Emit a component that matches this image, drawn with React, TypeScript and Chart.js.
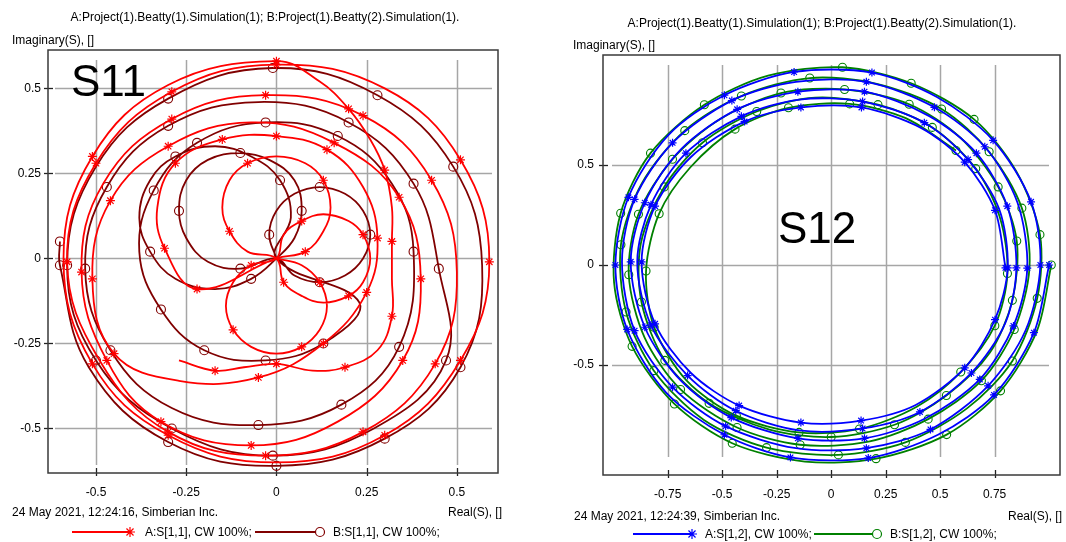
import React, { useEffect, useRef } from "react";
import { Chart, registerables } from "chart.js";

Chart.register(...registerables);

// ---------------- data ----------------
// S11, trace A (Beatty 1): real / imaginary parts
const s11ARe = [
  0, 0.07, 0.12, 0.14, 0.12, 0.07, 0, -0.07, -0.12, -0.14, -0.12, -0.07, 0,
  0.02, 0.07, 0.13, 0.2, 0.24, 0.26, 0.24, 0.2, 0.13, 0.07, 0.02, 0,
  -0.08, -0.13, -0.15, -0.13, -0.08, 0, 0.08, 0.13, 0.15, 0.13, 0.08, 0,
  -0.22, -0.31, -0.33, -0.28, -0.15, 0.0, 0.14, 0.24, 0.28, 0.25, 0.13, -0.05, -0.27,
  -0.45, -0.51, -0.46, -0.3, -0.07, 0.16, 0.34, 0.4, 0.35, 0.17, -0.07, -0.32,
  -0.47, -0.54, -0.48, -0.29, -0.03, 0.24, 0.43, 0.5, 0.44, 0.24, -0.03, -0.3,
  -0.49, -0.58, -0.5, -0.29, 0, 0.3, 0.51, 0.59, 0.51, 0.3, 0, -0.3,
  -0.51, -0.59, -0.51, -0.3, 0.0, 0.12, 0.2, 0.26, 0.3, 0.32, 0.32, 0.32, 0.32, 0.28, 0.19, 0.1, 0.0, -0.09, -0.17, -0.27,
];
const s11AIm = [
  0, -0.02, -0.07, -0.14, -0.21, -0.26, -0.28, -0.26, -0.21, -0.14, -0.07, -0.02, 0,
  0.07, 0.11, 0.13, 0.11, 0.07, 0, -0.07, -0.11, -0.13, -0.11, -0.07, 0,
  0.02, 0.08, 0.15, 0.23, 0.28, 0.3, 0.28, 0.23, 0.15, 0.08, 0.02, 0,
  -0.09, 0.03, 0.15, 0.28, 0.35, 0.36, 0.32, 0.21, 0.06, -0.1, -0.25, -0.35, -0.36,
  -0.28, -0.06, 0.17, 0.33, 0.4, 0.34, 0.18, -0.06, -0.3, -0.48, -0.55, -0.48,
  -0.3, -0.04, 0.22, 0.41, 0.48, 0.42, 0.23, -0.04, -0.31, -0.51, -0.58, -0.51,
  -0.3, -0.01, 0.28, 0.49, 0.57, 0.5, 0.29, -0.01, -0.3, -0.52, -0.6, -0.52,
  -0.31, 0.0, 0.3, 0.51, 0.58, 0.52, 0.44, 0.35, 0.26, 0.15, 0.05, -0.06, -0.17, -0.27, -0.32, -0.33, -0.31, -0.32, -0.33, -0.3,
];

// S11, trace B (Beatty 2)
const s11BRe = [
  0, -0.02, 0.0, 0.05, 0.12, 0.19, 0.24, 0.26, 0.24, 0.19, 0.12, 0.05, 0,
  -0.1, -0.19, -0.25, -0.27, -0.25, -0.19, -0.1, -0.02, 0.05, 0.07, 0.05, 0,
  -0.07, -0.17, -0.28, -0.35, -0.38, -0.35, -0.28, -0.17, -0.07, 0.01, 0.04, 0,
  0.23, 0.13, -0.03, -0.2, -0.32, -0.38, -0.34, -0.22, -0.03, 0.17, 0.32, 0.38,
  0.34, 0.18, -0.05, -0.29, -0.46, -0.53, -0.47, -0.3, -0.05, 0.2, 0.38, 0.45,
  0.47, 0.27, -0.01, -0.29, -0.5, -0.58, -0.5, -0.3, -0.01, 0.28, 0.49, 0.57,
  0.51, 0.3, 0, -0.3, -0.52, -0.6, -0.6,
];
const s11BIm = [
  0, 0.07, 0.14, 0.19, 0.21, 0.19, 0.14, 0.07, 0.0, -0.05, -0.07, -0.05, 0,
  -0.03, -0.01, 0.06, 0.14, 0.23, 0.29, 0.31, 0.29, 0.23, 0.14, 0.06, 0,
  -0.06, -0.09, -0.06, 0.02, 0.12, 0.23, 0.3, 0.33, 0.3, 0.23, 0.12, 0,
  -0.13, -0.25, -0.3, -0.27, -0.15, 0.02, 0.2, 0.34, 0.4, 0.36, 0.22, 0.02,
  -0.26, -0.43, -0.49, -0.44, -0.27, -0.03, 0.21, 0.39, 0.46, 0.4, 0.22, -0.03,
  -0.3, -0.5, -0.58, -0.5, -0.3, -0.02, 0.27, 0.47, 0.56, 0.48, 0.27, -0.02,
  -0.32, -0.53, -0.61, -0.54, -0.32, -0.02, 0.05,
];

// S12, trace A: magnitude and phase (degrees)
const s12AMag = [
  1.0, 0.99, 0.99, 0.98, 0.98, 0.98, 0.98, 0.99, 0.99, 0.99, 0.99, 0.99, 0.98, 0.98, 0.98, 0.97, 0.97, 0.97,
  0.96, 0.95, 0.94, 0.94, 0.93, 0.93, 0.94, 0.95, 0.96, 0.96, 0.96, 0.95, 0.94, 0.93, 0.93, 0.92, 0.92, 0.91,
  0.9, 0.89, 0.89, 0.88, 0.88, 0.88, 0.89, 0.9, 0.91, 0.92, 0.91, 0.9, 0.89, 0.88, 0.88, 0.87, 0.87, 0.86,
  0.85, 0.85, 0.84, 0.84, 0.83, 0.84, 0.85, 0.86, 0.88, 0.89, 0.88, 0.87, 0.85, 0.84, 0.83, 0.83, 0.82, 0.82,
  0.81, 0.8, 0.8, 0.8, 0.79, 0.8, 0.82, 0.84, 0.86, 0.87, 0.86, 0.84, 0.82, 0.8, 0.8, 0.8, 0.8, 0.8,
  0.8,
];
const s12APhase = [
  0, -20, -41, -60, -80, -101, -120, -140, -161, -180, -200, -221, -240, -260, -281, -300, -320, -341,
  -360, -380, -400, -421, -440, -460, -481, -500, -520, -541, -560, -580, -601, -620, -640, -661, -680, -700,
  -721, -740, -760, -781, -800, -820, -841, -860, -880, -901, -920, -940, -961, -980, -1000, -1021, -1040, -1060,
  -1081, -1100, -1120, -1141, -1160, -1180, -1201, -1220, -1240, -1261, -1280, -1300, -1321, -1340, -1360, -1381, -1400, -1420,
  -1441, -1460, -1480, -1501, -1520, -1540, -1561, -1580, -1600, -1621, -1640, -1660, -1681, -1700, -1720, -1741, -1760, -1780,
  -1801,
];

// S12, trace B
const s12BMag = [
  1.01, 1.0, 1.0, 1.0, 0.99, 0.99, 1.0, 1.0, 1.0, 1.0, 1.0, 1.0, 0.99, 0.99, 0.99, 0.98, 0.98, 0.97,
  0.97, 0.96, 0.96, 0.95, 0.95, 0.95, 0.96, 0.97, 0.97, 0.97, 0.97, 0.96, 0.95, 0.94, 0.94, 0.93, 0.93, 0.92,
  0.92, 0.91, 0.9, 0.9, 0.89, 0.9, 0.91, 0.92, 0.93, 0.93, 0.93, 0.92, 0.9, 0.89, 0.89, 0.88, 0.88, 0.87,
  0.86, 0.86, 0.85, 0.85, 0.84, 0.85, 0.86, 0.87, 0.89, 0.9, 0.89, 0.88, 0.86, 0.85, 0.84, 0.84, 0.83, 0.83,
  0.82, 0.81, 0.81, 0.81, 0.8, 0.81, 0.83, 0.85, 0.87, 0.88, 0.87, 0.85, 0.83, 0.81, 0.81, 0.81, 0.81, 0.81,
  0.81,
];
const s12BPhase = [
  0, -19, -39, -58, -78, -97, -117, -136, -156, -175, -195, -214, -234, -253, -273, -292, -312, -331,
  -351, -370, -390, -409, -429, -448, -468, -487, -507, -526, -546, -565, -585, -604, -624, -643, -663, -682,
  -702, -721, -741, -760, -780, -799, -819, -838, -858, -877, -897, -916, -936, -955, -975, -994, -1014, -1033,
  -1053, -1072, -1092, -1111, -1131, -1150, -1170, -1189, -1209, -1228, -1248, -1267, -1287, -1306, -1326, -1345, -1365, -1384,
  -1404, -1423, -1443, -1462, -1482, -1501, -1521, -1540, -1560, -1579, -1599, -1618, -1638, -1657, -1677, -1696, -1716, -1735,
  -1755,
];

// axis ticks
const s11XTicks = [-0.5, -0.25, 0, 0.25, 0.5];
const s11YTicks = [0.5, 0.25, 0, -0.25, -0.5];
const s12XTicks = [-0.75, -0.5, -0.25, 0, 0.25, 0.5, 0.75];
const s12YTicks = [0.5, 0, -0.5];

const titleText = "A:Project(1).Beatty(1).Simulation(1); B:Project(1).Beatty(2).Simulation(1).";
const s11Legend = ["A:S[1,1], CW 100%;", "B:S[1,1], CW 100%;"];
const s12Legend = ["A:S[1,2], CW 100%;", "B:S[1,2], CW 100%;"];

// ---------------- helpers ----------------
const FONT = "'Liberation Sans', Arial, Helvetica, sans-serif";
const TXT = 12;

function cartesian(re: number[], im: number[]) {
  return re.map((x, i) => ({ x, y: im[i] }));
}
function fromPolar(mag: number[], phaseDeg: number[]) {
  return mag.map((m, i) => {
    const a = (phaseDeg[i] * Math.PI) / 180;
    return { x: m * Math.cos(a), y: m * Math.sin(a) };
  });
}

function drawStar(ctx: CanvasRenderingContext2D, x: number, y: number, r: number) {
  ctx.beginPath();
  for (let k = 0; k < 4; k++) {
    const a = (k * Math.PI) / 4;
    ctx.moveTo(x - r * Math.cos(a), y - r * Math.sin(a));
    ctx.lineTo(x + r * Math.cos(a), y + r * Math.sin(a));
  }
  ctx.stroke();
}

type Panel = {
  W: number;
  H: number;
  box: { l: number; t: number; r: number; b: number };
  xMin: number;
  xMax: number;
  yMin: number;
  yMax: number;
  xTicks: number[];
  yTicks: number[];
  inset: { t: number; b: number; l: number; r: number };
  yLabelPad: number;
  xLabelPad: number;
  title: { x: number; y: number };
  yTitle: { x: number; y: number };
  stamp: { text: string; x: number; y: number };
  xTitle: { right: number; y: number };
  legend: { y: number; labels: string[]; a: [number, number, number]; b: [number, number, number] };
  big: { text: string; x: number; y: number };
  colA: string;
  colB: string;
  dataA: { x: number; y: number }[];
  dataB: { x: number; y: number }[];
  markA: (i: number) => boolean;
  markB: (i: number) => boolean;
  tension: number;
  radius: number;
};

const leftPanel: Panel = {
  W: 533,
  H: 542,
  box: { l: 48, t: 50, r: 498, b: 473 },
  xMin: -0.633,
  xMax: 0.614,
  yMin: -0.631,
  yMax: 0.613,
  xTicks: s11XTicks,
  yTicks: s11YTicks,
  inset: { t: 10, b: 8, l: 7, r: 6 },
  yLabelPad: 7,
  xLabelPad: 12,
  title: { x: 265, y: 21 },
  yTitle: { x: 12, y: 44 },
  stamp: { text: "24 May 2021, 12:24:16, Simberian Inc.", x: 12, y: 516 },
  xTitle: { right: 502, y: 516 },
  legend: { y: 536, labels: s11Legend, a: [72, 130, 145], b: [255, 320, 333] },
  big: { text: "S11", x: 71, y: 96 },
  colA: "#ff0000",
  colB: "#800000",
  dataA: cartesian(s11ARe, s11AIm),
  dataB: cartesian(s11BRe, s11BIm),
  markA: (i) => (i < 37 ? i % 3 === 2 : i < 86 ? i % 5 !== 4 : i % 2 === 0),
  markB: (i) => (i < 37 ? i % 3 === 1 : i % 5 !== 2),
  tension: 0.4,
  radius: 4.5,
};

const rightPanel: Panel = {
  W: 533,
  H: 542,
  box: { l: 70, t: 55, r: 527, b: 475 },
  xMin: -1.047,
  xMax: 1.05,
  yMin: -1.05,
  yMax: 1.05,
  xTicks: s12XTicks,
  yTicks: s12YTicks,
  inset: { t: 10, b: 18, l: 9, r: 11 },
  yLabelPad: 9,
  xLabelPad: 12,
  title: { x: 289, y: 27 },
  yTitle: { x: 40, y: 49 },
  stamp: { text: "24 May 2021, 12:24:39, Simberian Inc.", x: 41, y: 520 },
  xTitle: { right: 529, y: 520 },
  legend: { y: 538, labels: s12Legend, a: [100, 159, 172], b: [281, 344, 357] },
  big: { text: "S12", x: 245, y: 243 },
  colA: "#0000ff",
  colB: "#008000",
  dataA: fromPolar(s12AMag, s12APhase),
  dataB: fromPolar(s12BMag, s12BPhase),
  markA: (i) => i % 4 !== 3,
  markB: (i) => i % 4 !== 1,
  tension: 0.3,
  radius: 4,
};

function buildChart(canvas: HTMLCanvasElement, p: Panel) {
  const framePlugin = {
    id: "frame",
    beforeDatasetsDraw(chart: any) {
      const { ctx, chartArea: a } = chart;
      const xs = chart.scales.x;
      const ys = chart.scales.y;
      ctx.save();
      ctx.strokeStyle = "#a6a6a6";
      ctx.lineWidth = 1.5;
      for (const v of p.xTicks) {
        const px = Math.round(xs.getPixelForValue(v)) + 0.5;
        ctx.beginPath();
        ctx.moveTo(px, a.top + p.inset.t);
        ctx.lineTo(px, a.bottom - p.inset.b);
        ctx.stroke();
      }
      for (const v of p.yTicks) {
        const py = Math.round(ys.getPixelForValue(v)) + 0.5;
        ctx.beginPath();
        ctx.moveTo(a.left + p.inset.l, py);
        ctx.lineTo(a.right - p.inset.r, py);
        ctx.stroke();
      }
      // tick marks crossing the frame
      ctx.strokeStyle = "#222";
      ctx.lineWidth = 1.3;
      for (const v of p.xTicks) {
        const px = Math.round(xs.getPixelForValue(v)) + 0.5;
        ctx.beginPath();
        ctx.moveTo(px, a.bottom - 5);
        ctx.lineTo(px, a.bottom + 3);
        ctx.stroke();
      }
      for (const v of p.yTicks) {
        const py = Math.round(ys.getPixelForValue(v)) + 0.5;
        ctx.beginPath();
        ctx.moveTo(a.left - 4, py);
        ctx.lineTo(a.left + 5, py);
        ctx.stroke();
      }
      ctx.strokeStyle = "#3a3a3a";
      ctx.lineWidth = 1.5;
      ctx.strokeRect(a.left, a.top, a.right - a.left, a.bottom - a.top);
      ctx.restore();
    },
    afterDraw(chart: any) {
      const { ctx } = chart;
      ctx.save();
      ctx.fillStyle = "#000";
      ctx.textBaseline = "alphabetic";
      ctx.font = `${TXT}px ${FONT}`;
      ctx.textAlign = "center";
      ctx.fillText(titleText, p.title.x, p.title.y);
      ctx.textAlign = "left";
      ctx.fillText("Imaginary(S), []", p.yTitle.x, p.yTitle.y);
      ctx.fillText(p.stamp.text, p.stamp.x, p.stamp.y);
      ctx.textAlign = "right";
      ctx.fillText("Real(S), []", p.xTitle.right, p.xTitle.y);
      // legend
      const ly = p.legend.y - 4;
      const [a0, a1, at] = p.legend.a;
      const [b0, b1, bt] = p.legend.b;
      ctx.lineWidth = 1.8;
      ctx.strokeStyle = p.colA;
      ctx.beginPath();
      ctx.moveTo(a0, ly);
      ctx.lineTo(a1, ly);
      ctx.stroke();
      ctx.lineWidth = 1.2;
      drawStar(ctx, a1, ly, 5);
      ctx.strokeStyle = p.colB;
      ctx.lineWidth = 1.8;
      ctx.beginPath();
      ctx.moveTo(b0, ly);
      ctx.lineTo(b1 - 4.5, ly);
      ctx.stroke();
      ctx.lineWidth = 1.2;
      ctx.beginPath();
      ctx.arc(b1, ly, 4.5, 0, Math.PI * 2);
      ctx.stroke();
      ctx.textAlign = "left";
      ctx.fillText(p.legend.labels[0], at, p.legend.y);
      ctx.fillText(p.legend.labels[1], bt, p.legend.y);
      // big label
      ctx.font = `44px ${FONT}`;
      ctx.fillText(p.big.text, p.big.x, p.big.y);
      ctx.restore();
    },
  };

  const ds = (label: string, data: any[], col: string, star: boolean, mark: (i: number) => boolean) => ({
    label,
    data,
    showLine: true,
    fill: false,
    borderColor: col,
    borderWidth: 1.8,
    tension: p.tension,
    pointStyle: star ? "star" : "circle",
    pointRadius: (c: any) => (mark(c.dataIndex) ? p.radius : 0),
    pointHoverRadius: 0,
    pointHitRadius: 0,
    pointBorderColor: col,
    pointBackgroundColor: star ? col : "rgba(0,0,0,0)",
    pointBorderWidth: star ? 1.2 : 1.1,
  });

  return new Chart(canvas, {
    type: "scatter",
    data: {
      datasets: [
        ds(p.legend.labels[0], p.dataA, p.colA, true, p.markA) as any,
        ds(p.legend.labels[1], p.dataB, p.colB, false, p.markB) as any,
      ],
    },
    plugins: [framePlugin],
    options: {
      responsive: false,
      maintainAspectRatio: false,
      animation: false,
      events: [],
      layout: { padding: { left: 0, top: p.box.t, right: p.W - p.box.r, bottom: 0 } },
      plugins: {
        legend: { display: false },
        title: { display: false },
        tooltip: { enabled: false },
      },
      scales: {
        x: {
          type: "linear",
          min: p.xMin,
          max: p.xMax,
          grid: { display: false, drawTicks: false },
          border: { display: false },
          ticks: {
            padding: p.xLabelPad,
            color: "#000",
            font: { family: FONT, size: TXT },
            maxRotation: 0,
            minRotation: 0,
            autoSkip: false,
            callback: (v: any) => String(v),
          },
          afterBuildTicks: (s: any) => {
            s.ticks = p.xTicks.map((v) => ({ value: v }));
          },
          afterFit: (s: any) => {
            s.height = p.H - p.box.b;
          },
        },
        y: {
          type: "linear",
          min: p.yMin,
          max: p.yMax,
          grid: { display: false, drawTicks: false },
          border: { display: false },
          ticks: {
            padding: p.yLabelPad,
            color: "#000",
            font: { family: FONT, size: TXT },
            autoSkip: false,
            callback: (v: any) => String(v),
          },
          afterBuildTicks: (s: any) => {
            s.ticks = p.yTicks.map((v) => ({ value: v }));
          },
          afterFit: (s: any) => {
            s.width = p.box.l;
          },
        },
      },
    } as any,
  });
}

export default function App() {
  const leftRef = useRef<HTMLCanvasElement>(null);
  const rightRef = useRef<HTMLCanvasElement>(null);

  useEffect(() => {
    const c1 = buildChart(leftRef.current as HTMLCanvasElement, leftPanel);
    const c2 = buildChart(rightRef.current as HTMLCanvasElement, rightPanel);
    return () => {
      c1.destroy();
      c2.destroy();
    };
  }, []);

  return (
    <div style={{ position: "fixed", left: 0, top: 0, width: 1066, height: 542, background: "#fff", overflow: "hidden" }}>
      <canvas
        ref={leftRef}
        width={533}
        height={542}
        style={{ position: "absolute", left: 0, top: 0, width: 533, height: 542 }}
      />
      <canvas
        ref={rightRef}
        width={533}
        height={542}
        style={{ position: "absolute", left: 533, top: 0, width: 533, height: 542 }}
      />
    </div>
  );
}
